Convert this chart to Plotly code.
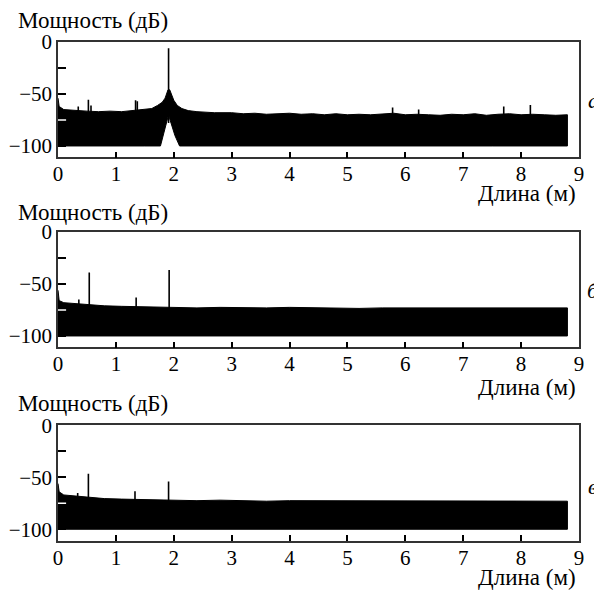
import plotly.graph_objects as go

# ---------------- data ----------------
x_ticks = [0, 1, 2, 3, 4, 5, 6, 7, 8, 9]
y_ticks = [0, -25, -50, -75, -100]
y_ticktext = ["0", "", "\u221250", "", "\u2212100"]

# Panel а: noise band envelopes (dB)
a_up_x = [0, 0.02, 0.1, 0.3, 0.5, 0.7, 0.9, 1.1, 1.3, 1.5, 1.62, 1.72, 1.8, 1.85, 1.88, 1.90,
          1.93, 1.96, 2.0, 2.06, 2.14, 2.25, 2.4, 2.7, 3.0, 3.2, 3.4, 3.6, 3.8, 4.0, 4.2, 4.4,
          4.6, 4.8, 5.0, 5.2, 5.4, 5.6, 5.8, 6.0, 6.2, 6.4, 6.6, 6.8, 7.0, 7.2, 7.4, 7.6, 7.8,
          8.0, 8.2, 8.4, 8.6, 8.8]
a_up = [-54, -62, -65, -66, -66.5, -67, -66.5, -67, -66, -65, -64, -61, -58, -54, -50, -46,
        -46, -51, -56, -61, -64, -66, -67, -68, -68, -69, -68.5, -69.5, -69, -68.5, -69.5, -69,
        -70, -69, -70, -69.5, -70, -69, -68.5, -70, -69.5, -70, -70.5, -69.5, -70, -69, -70.5,
        -69.5, -69, -70, -69.5, -70, -70.5, -70]
a_lo_x = [0, 0.5, 1.0, 1.5, 1.77, 1.82, 1.86, 1.89, 1.91, 1.93, 1.97, 2.02, 2.10, 2.6, 3.5,
          4.5, 5.5, 6.5, 7.5, 8.8]
a_lo = [-100, -100, -100, -100, -100, -90, -82, -74, -70, -74, -82, -90, -100, -100, -100,
        -100, -100, -100, -100, -100]
a_spk_x = [0.35, 0.525, 0.57, 1.34, 1.37, 1.91, 5.78, 6.23, 7.70, 8.16]
a_spk_y = [-62, -55.5, -61, -56, -57, -6, -63, -65, -62, -60.5]

# Panel б
b_up_x = [0, 0.02, 0.1, 0.3, 0.5, 0.8, 1.1, 1.4, 1.7, 2.0, 2.4, 2.8, 3.2, 3.6, 4.0, 4.4,
          4.8, 5.2, 5.6, 6.0, 6.4, 6.8, 7.2, 7.6, 8.0, 8.4, 8.8]
b_up = [-56, -66, -68, -69, -70, -71, -71.5, -72, -72.5, -73, -73, -72.5, -73, -73, -72.5,
        -73, -73, -73.5, -73, -73, -72.5, -73, -73, -72.5, -73, -72.5, -73]
b_lo_x = [0, 8.8]
b_lo = [-100, -100]
b_spk_x = [0.36, 0.54, 1.35, 1.92]
b_spk_y = [-65, -39, -63, -36.5]

# Panel в
c_up_x = [0, 0.02, 0.1, 0.3, 0.5, 0.8, 1.1, 1.4, 1.7, 2.0, 2.4, 2.8, 3.2, 3.6, 4.0, 4.4,
          4.8, 5.2, 5.6, 6.0, 6.4, 6.8, 7.2, 7.6, 8.0, 8.4, 8.8]
c_up = [-56, -64, -67, -68, -69, -70.5, -71, -71.5, -72, -72.5, -72.5, -72, -72.5, -73, -72.5,
        -72.5, -73, -72.5, -73, -72.5, -73, -72.5, -72.5, -73, -72.5, -72.5, -73]
c_lo_x = [0, 8.8]
c_lo = [-100, -100]
c_spk_x = [0.34, 0.525, 1.33, 1.91]
c_spk_y = [-65, -46.5, -63.5, -54]

panel_letters = ["а", "б", "в"]
y_title = "Мощность (дБ)"
x_title = "Длина (м)"

# ---------------- layout geometry ----------------
OFF = 8                      # page body margin
W, H = 602 - OFF, 590 - OFF
FONT = '"Liberation Serif", "Times New Roman", Times, serif'

def px(p):
    return (p - OFF) / W

def py(p):
    return 1 - (p - OFF) / H

x_dom = [px(58), px(579)]
panels_px = [(42, 157.4), (232, 347.4), (425.3, 540.7)]   # top, bottom pixel rows
ytitle_px = [20, 212, 403]
xtitle_px = [193, 387, 577]
letter_px = [100, 290, 486]

fig = go.Figure()

panels = [
    (a_up_x, a_up, a_lo_x, a_lo, a_spk_x, a_spk_y),
    (b_up_x, b_up, b_lo_x, b_lo, b_spk_x, b_spk_y),
    (c_up_x, c_up, c_lo_x, c_lo, c_spk_x, c_spk_y),
]

for i, (ux, uy, lx, ly, sx, sy) in enumerate(panels):
    n = i + 1
    xa = "x" if n == 1 else f"x{n}"
    ya = "y" if n == 1 else f"y{n}"
    fig.add_trace(go.Scatter(
        x=list(ux) + list(reversed(lx)), y=list(uy) + list(reversed(ly)),
        fill="toself", fillcolor="black", mode="lines",
        line=dict(color="black", width=1), xaxis=xa, yaxis=ya,
        showlegend=False, hoverinfo="skip"))
    spx, spy = [], []
    for xv, yv in zip(sx, sy):
        spx += [xv, xv, None]
        spy += [-78, yv, None]
    fig.add_trace(go.Scatter(
        x=spx, y=spy, mode="lines", line=dict(color="black", width=1.6),
        xaxis=xa, yaxis=ya, showlegend=False, hoverinfo="skip"))

    top, bot = panels_px[i]
    axis_common = dict(showgrid=False, zeroline=False, showline=True, mirror=True,
                       linecolor="#333", linewidth=1.5, ticks="inside",
                       tickcolor="black", tickwidth=1.5, automargin=False,
                       tickfont=dict(family=FONT, size=21, color="black"))
    fig.update_layout(**{
        ("xaxis" if n == 1 else f"xaxis{n}"): dict(
            domain=x_dom, range=[0, 9], tickvals=x_ticks, ticklen=6,
            ticklabelstandoff=-3, anchor=ya, **axis_common),
        ("yaxis" if n == 1 else f"yaxis{n}"): dict(
            domain=[py(bot), py(top)], range=[-111, 0], tickvals=y_ticks,
            ticktext=y_ticktext, ticklen=8, anchor=xa, **axis_common),
    })
    fig.add_shape(type="line", xref=xa, yref=ya, x0=0, x1=0.14, y0=-75, y1=-75,
                  line=dict(color="white", width=1.5))
    fig.add_annotation(text=y_title, xref="paper", yref="paper", x=px(16), y=py(ytitle_px[i]),
                       xanchor="left", yanchor="middle", showarrow=False,
                       font=dict(family=FONT, size=23, color="black"))
    fig.add_annotation(text=x_title, xref="paper", yref="paper", x=px(578), y=py(xtitle_px[i]),
                       xanchor="right", yanchor="middle", showarrow=False,
                       font=dict(family=FONT, size=23, color="black"))
    fig.add_annotation(text=f"<i>{panel_letters[i]}</i>", xref="paper", yref="paper",
                       x=px(593), y=py(letter_px[i]), xanchor="center", yanchor="middle",
                       showarrow=False, font=dict(family=FONT, size=22, color="black"))

fig.update_layout(width=W, height=H,
                  margin=dict(l=0, r=0, t=0, b=0, pad=0, autoexpand=False),
                  paper_bgcolor="white", plot_bgcolor="white", showlegend=False)

fig.write_html("out.html")
